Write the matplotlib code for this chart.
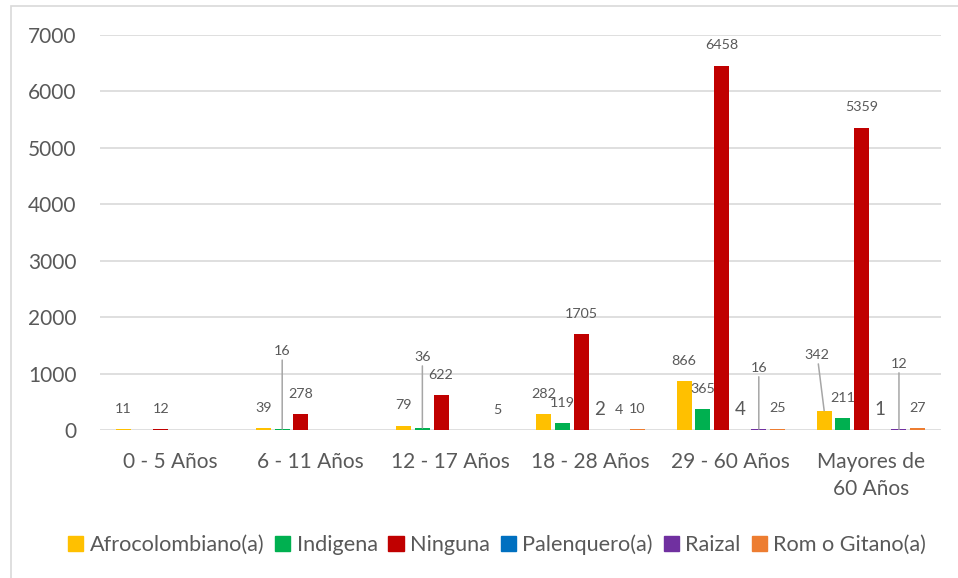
import numpy as np
import matplotlib
matplotlib.use('Agg')
import matplotlib.pyplot as plt
from matplotlib.patches import Patch, Rectangle

plt.rcParams['font.family'] = ['Lato', 'DejaVu Sans']

# ── Data ─────────────────────────────────────────────
groups = ['0 - 5 Años', '6 - 11 Años', '12 - 17 Años', '18 - 28 Años',
          '29 - 60 Años', 'Mayores de\n60 Años']
series = ['Afrocolombiano(a)', 'Indigena', 'Ninguna', 'Palenquero(a)',
          'Raizal', 'Rom o Gitano(a)']
afro       = [11, 39, 79, 282, 866, 342]
indigena   = [None, 16, 36, 119, 365, 211]
ninguna    = [12, 278, 622, 1705, 6458, 5359]
palenquero = [None, None, None, 2, 4, 1]
raizal     = [None, None, None, 4, 16, 12]
rom        = [None, None, 5, 10, 25, 27]
values = [afro, indigena, ninguna, palenquero, raizal, rom]

colors = ['#FFC000', '#00B050', '#C00000', '#0070C0', '#7030A0', '#ED7D31']
TXT  = '#595959'
GRID = '#D9D9D9'
LEAD = '#A6A6A6'

# labels moved off the bar (Excel leader lines): (series, group) -> offset in points
moved = {(1, 1): (0, 56), (1, 2): (0, 51), (4, 4): (0, 44),
         (4, 5): (0, 47), (0, 5): (-5, 40)}

fig = plt.figure(figsize=(9.58, 5.78), dpi=100)
ax = fig.add_axes([100/958, 1 - 430/578, 841/958, 395/578])

# chart area border
fig.patches.append(Rectangle((11/958, -0.1), 1.2, 1.1 - 6/578,
                             transform=fig.transFigure, fill=False,
                             edgecolor=GRID, lw=1.2))

x = np.arange(len(groups))
step, width = 0.1334, 0.107
for i, (vals, col) in enumerate(zip(values, colors)):
    xs = x + (i - 2.5) * step
    v = np.array([np.nan if a is None else a for a in vals], dtype=float)
    ax.bar(xs, v, width=width, color=col, zorder=3)
    for j, val in enumerate(vals):
        if val is None:
            continue
        fs = 13.5 if i == 3 else 10.3
        if (i, j) in moved:
            dx, dy = moved[(i, j)]
            ax.annotate(str(val), xy=(xs[j], val), xytext=(dx, dy),
                        textcoords='offset points', ha='center', va='center',
                        fontsize=fs, color=TXT,
                        arrowprops=dict(arrowstyle='-', color=LEAD, lw=1.1,
                                        shrinkA=0, shrinkB=0))
        else:
            ax.annotate(str(val), xy=(xs[j], val), xytext=(0, 14.5),
                        textcoords='offset points', ha='center', va='center',
                        fontsize=fs, color=TXT)

ax.set_xlim(-0.5, len(groups) - 0.5)
ax.set_ylim(0, 7000)
ax.set_yticks(range(0, 7001, 1000))
ax.set_xticks(x)
ax.set_xticklabels(groups, linespacing=1.4)
ax.tick_params(axis='both', length=0, labelsize=15, labelcolor=TXT)
ax.tick_params(axis='y', pad=17)
ax.tick_params(axis='x', pad=16)
ax.grid(axis='y', color=GRID, lw=1.2, zorder=0)
for s in ax.spines.values():
    s.set_visible(False)

handles = [Patch(color=c, label=s) for c, s in zip(colors, series)]
fig.legend(handles=handles, loc='center', bbox_to_anchor=(497/958, 1 - 545/578),
           ncol=6, frameon=False, fontsize=15.6, labelcolor=TXT,
           handlelength=0.7, handleheight=0.7, handletextpad=0.3,
           columnspacing=0.5, borderaxespad=0)

fig.savefig('out.png', dpi=100)
